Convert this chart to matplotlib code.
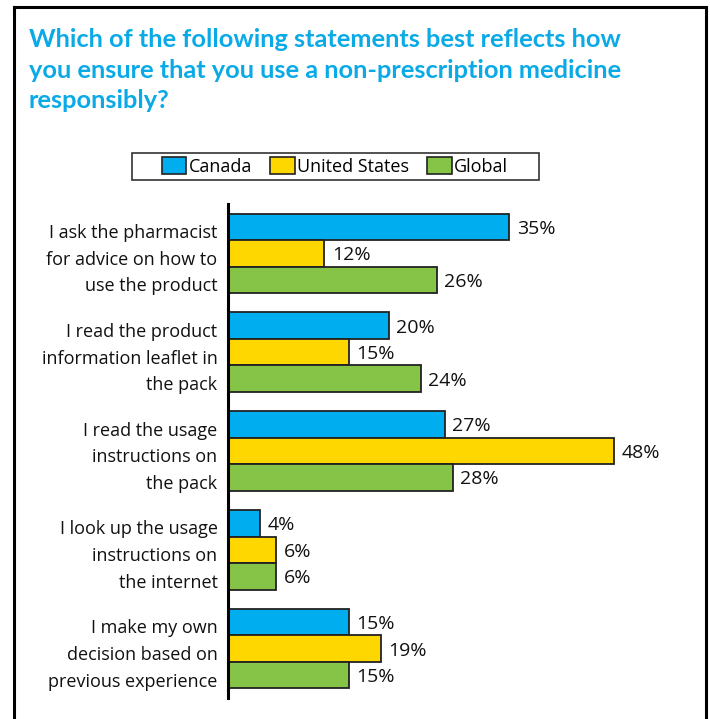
import matplotlib
matplotlib.use("Agg")
import matplotlib.pyplot as plt
import numpy as np
from matplotlib.patches import Patch, Rectangle
from matplotlib.lines import Line2D

categories = [
    "I ask the pharmacist\nfor advice on how to\nuse the product",
    "I read the product\ninformation leaflet in\nthe pack",
    "I read the usage\ninstructions on\nthe pack",
    "I look up the usage\ninstructions on\nthe internet",
    "I make my own\ndecision based on\nprevious experience",
]
series_names = ["Canada", "United States", "Global"]
canada = [35, 20, 27, 4, 15]
united_states = [12, 15, 48, 6, 19]
global_vals = [26, 24, 28, 6, 15]
colors = ["#00AEEF", "#FFD700", "#85C446"]
title = ("Which of the following statements best reflects how\n"
         "you ensure that you use a non-prescription medicine\n"
         "responsibly?")

plt.rcParams['font.family'] = ['Open Sans', 'DejaVu Sans']

W, H = 710, 719
fig = plt.figure(figsize=(W / 100, H / 100), dpi=100)

# frame
fig.add_artist(Line2D([14 / W, 14 / W], [0, 1 - 7 / H], color="black", lw=2.2))
fig.add_artist(Line2D([706 / W, 706 / W], [0, 1 - 7 / H], color="black", lw=2.2))
fig.add_artist(Line2D([14 / W, 706 / W], [1 - 7 / H, 1 - 7 / H], color="black", lw=2.2))

fig.text(29 / W, 1 - 28 / H, title, color="#0AAAE6", fontsize=18.3, fontweight="bold",
         family=["Lato", "DejaVu Sans"],
         va="top", ha="left", linespacing=1.4)

ax_left, ax_right = 228 / W, 700 / W
ax_top, ax_bot = 1 - 204 / H, 1 - 698 / H
ax = fig.add_axes([ax_left, ax_bot, ax_right - ax_left, ax_top - ax_bot])

n = len(categories)
bh = 0.268
y = np.arange(n)
data = [canada, united_states, global_vals]
for i, (vals, c) in enumerate(zip(data, colors)):
    pos = y + (i - 1) * bh
    ax.barh(pos, vals, height=bh, color=c, edgecolor="#222222", linewidth=1.3)
    for p, v in zip(pos, vals):
        ax.text(v + 0.9, p + 0.02, f"{v}%", va="center", ha="left", fontsize=14, color="#111111")

ax.set_xlim(0, (700 - 228) / 8.04)
ax.set_ylim(n - 0.5, -0.5)
ax.set_yticks(y)
ax.set_yticklabels(categories, fontsize=13, linespacing=1.62, color="#111111")
ax.tick_params(axis="y", length=0, pad=7.5)
ax.set_xticks([])
for s in ["top", "right", "bottom"]:
    ax.spines[s].set_visible(False)
ax.spines["left"].set_linewidth(2.2)

handles = [Patch(facecolor=c, edgecolor="#222222", linewidth=1.2, label=nm)
           for c, nm in zip(colors, series_names)]
leg = fig.legend(handles=handles, loc="center", bbox_to_anchor=(335 / W, 1 - 166.5 / H),
                 ncol=3, frameon=False, fontsize=13, handlelength=1.35,
                 handleheight=1.1, handletextpad=0.15, columnspacing=1.0,
                 borderpad=0.2, borderaxespad=0)
fig.add_artist(Rectangle((132 / W, 1 - 180 / H), (539 - 132) / W, 27 / H,
                         transform=fig.transFigure, fill=False,
                         edgecolor="#333333", linewidth=1.2))

fig.savefig("out.png", dpi=100)
